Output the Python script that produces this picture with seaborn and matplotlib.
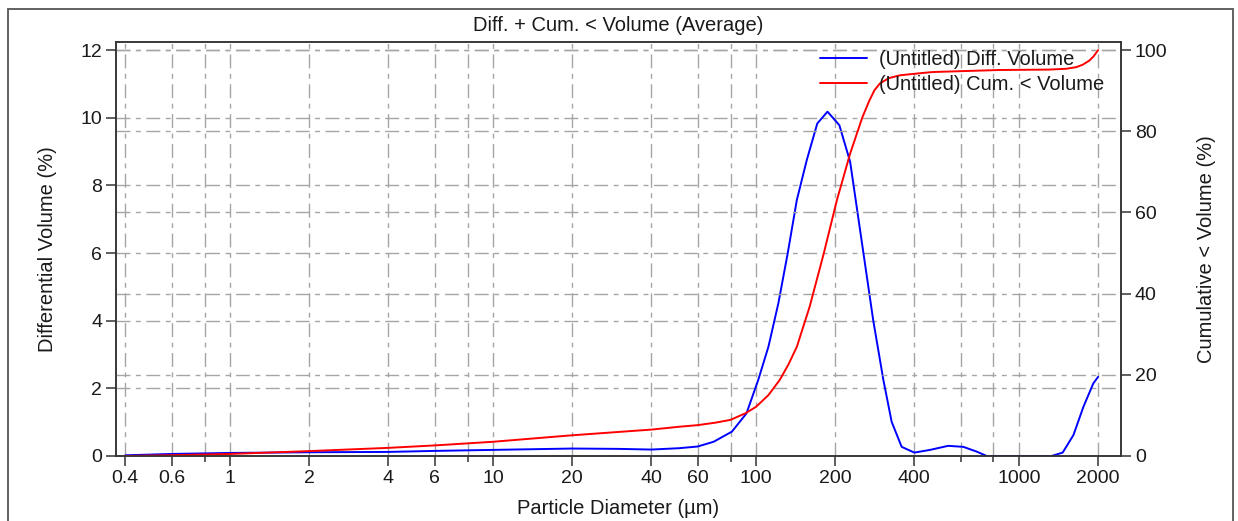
import matplotlib
matplotlib.use("Agg")
import matplotlib.pyplot as plt
import numpy as np
import seaborn as sns
from matplotlib.patches import Rectangle

# particle size (um) and differential volume (%)
diff_size = [0.4, 0.6, 1, 2, 4, 6, 10, 20, 30, 40, 51, 60, 69, 81, 92, 102, 111.5,
             121.6, 132, 143, 156, 171, 187, 207.5, 228, 252, 279, 305, 328, 358,
             400, 459, 538, 614, 690, 754, 810, 1000, 1331, 1466, 1611, 1759, 1918, 2000]
diff_vol = [0.02, 0.06, 0.09, 0.11, 0.12, 0.15, 0.18, 0.22, 0.21, 0.19, 0.23, 0.28, 0.42,
            0.72, 1.26, 2.25, 3.23, 4.51, 5.99, 7.57, 8.75, 9.83, 10.18, 9.78, 8.7, 6.38,
            4.02, 2.25, 1.01, 0.27, 0.1, 0.18, 0.30, 0.27, 0.13, 0.0, 0.0, 0.0, 0.0, 0.1,
            0.62, 1.46, 2.15, 2.34]

# cumulative < volume (%)
cum_size = [0.4, 0.6, 1, 2, 4, 6, 10, 20, 40, 51, 60, 70, 80, 91, 100, 111.5, 123, 133,
            143, 160, 181, 203, 228, 254, 270, 282, 296, 320, 353, 420, 470, 843, 1300,
            1513, 1650, 1747, 1850, 1918, 2000]
cum_vol = [0.0, 0.2, 0.5, 1.2, 2.0, 2.6, 3.5, 5.1, 6.5, 7.2, 7.6, 8.2, 8.9, 10.5, 12.1,
           15.0, 18.7, 22.6, 26.9, 36.8, 49.9, 63.0, 74.5, 83.5, 87.6, 90.1, 91.8, 93.1,
           93.8, 94.3, 94.6, 95.1, 95.2, 95.4, 95.8, 96.4, 97.4, 98.4, 100]

x_ticks = [0.4, 0.6, 1, 2, 4, 6, 10, 20, 40, 60, 100, 200, 400, 1000, 2000]
x_tick_labels = ["0.4", "0.6", "1", "2", "4", "6", "10", "20", "40", "60", "100",
                 "200", "400", "1000", "2000"]
x_minor = [0.8, 8, 80, 600, 800]

sns.set_style("ticks")
plt.rcParams['font.family'] = ['Liberation Sans', 'DejaVu Sans']
plt.rcParams['font.size'] = 14

grid_kw = dict(color="#a5a5a5", linewidth=1.0, linestyle=(0, (10, 4, 3.5, 4)))
text_col = "#1a1a1a"

fig = plt.figure(figsize=(12.38, 5.21), dpi=100)
ax = fig.add_axes([0.0937, 0.1248, 0.8118, 0.7946])
ax2 = ax.twinx()

sns.lineplot(x=diff_size, y=diff_vol, ax=ax, color="#0000ff", linewidth=1.4,
             label="(Untitled) Diff. Volume", legend=False)
sns.lineplot(x=cum_size, y=cum_vol, ax=ax2, color="#ff0000", linewidth=1.4,
             label="(Untitled) Cum. < Volume", legend=False)

ax.set_xscale("log")
ax.set_xlim(0.3686, 2443)
ax.set_ylim(0, 12.24)
ax2.set_ylim(0, 102)

ax.set_xticks(x_ticks)
ax.set_xticklabels(x_tick_labels)
ax.set_xticks(x_minor, minor=True)
ax.set_xticklabels([], minor=True)
ax.set_yticks([0, 2, 4, 6, 8, 10, 12])
ax2.set_yticks([0, 20, 40, 60, 80, 100])

ax.tick_params(axis="both", which="major", direction="out", length=7, width=1.1,
               color="#333333", labelcolor=text_col, labelsize=14, pad=3)
ax.tick_params(axis="x", which="minor", direction="out", length=4.5, width=1.1,
               color="#333333")
ax2.tick_params(axis="y", direction="out", length=7, width=1.1, color="#333333",
                labelcolor=text_col, labelsize=14, pad=3)

for a in (ax, ax2):
    for s in a.spines.values():
        s.set_visible(True)
        s.set_color("#333333")
        s.set_linewidth(1.1)

# grid lines, both sets of y ticks and all x ticks
for xv in x_ticks + x_minor:
    ax.axvline(xv, zorder=0, **grid_kw)
for yv in [2, 4, 6, 8, 10, 12]:
    ax.axhline(yv, zorder=0, **grid_kw)
for yv in [20, 40, 60, 80, 100]:
    ax2.axhline(yv, zorder=0, **grid_kw)

ax.set_xlabel("Particle Diameter (µm)", fontsize=14.5, color=text_col, labelpad=9)
ax.set_ylabel("Differential Volume (%)", fontsize=14.5, color=text_col, labelpad=17)
ax2.set_ylabel("Cumulative < Volume (%)", fontsize=14.5, color=text_col, labelpad=21)
ax.set_title("Diff. + Cum. < Volume (Average)", fontsize=14.5, color=text_col, pad=8)

h1, l1 = ax.get_legend_handles_labels()
h2, l2 = ax2.get_legend_handles_labels()
ax2.legend(h1 + h2, l1 + l2, loc="upper right", frameon=False, fontsize=14.5,
           handlelength=2.3, handletextpad=0.6, labelspacing=0.3,
           bbox_to_anchor=(0.995, 1.01), borderaxespad=0.2, labelcolor=text_col)

# outer frame around the figure
fig.patches.append(Rectangle((0.0068, -0.1), 0.9895, 1.0825, transform=fig.transFigure,
                             fill=False, edgecolor="#555555", linewidth=1.3))

fig.savefig("out.png", dpi=100)
